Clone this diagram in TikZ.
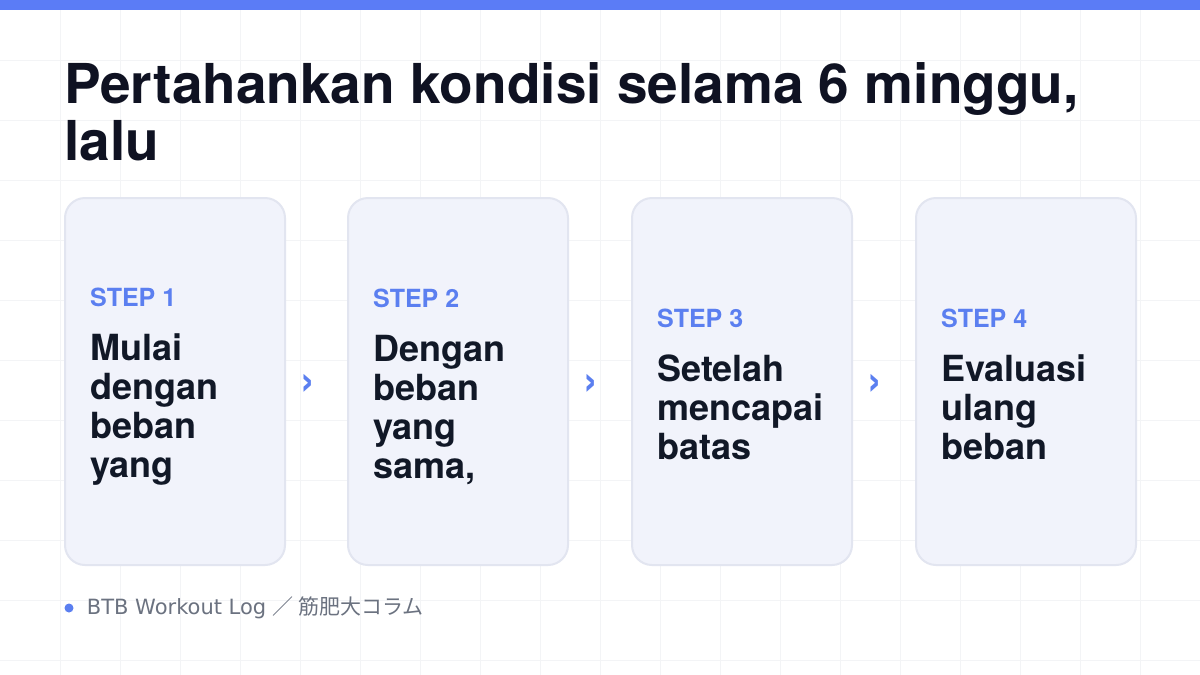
\documentclass[tikz,border=0pt]{standalone}
\usepackage{fontspec}
\setmainfont{TeX Gyre Heros}
\newfontfamily\footfont{DejaVu Sans}
\newfontfamily\cjk{Noto Sans CJK JP}
\usetikzlibrary{calc,positioning}

\definecolor{TopBlue}{HTML}{5B7CF6}
\definecolor{StepBlue}{HTML}{5B7FF0}
\definecolor{TitleInk}{HTML}{0F1222}
\definecolor{BodyInk}{HTML}{111827}
\definecolor{CardFill}{HTML}{F1F3FB}
\definecolor{CardEdge}{HTML}{E2E5F0}
\definecolor{FootInk}{HTML}{6B7280}
\definecolor{GridLine}{HTML}{F3F4F6}

\tikzset{
  card/.style={draw=CardEdge,line width=2pt,fill=CardFill,rounded corners=20pt,minimum width=220pt,minimum height=367pt,anchor=north west,inner sep=0pt,outer sep=0pt},
  cardtext/.style={anchor=west,align=left,text=BodyInk,font=\fontsize{36}{39}\selectfont\bfseries,inner sep=0pt},
  nextmark/.style={text=StepBlue,font=\fontsize{44}{44}\selectfont\bfseries,inner sep=0pt}
}

\begin{document}
\begin{tikzpicture}[x=1pt,y=-1pt]

  % Background and grid
  \path[use as bounding box,fill=white] (0,0) rectangle (1200,675);
  \foreach \gx in {60,120,...,1140} \draw[GridLine,line width=1pt] (\gx,0) -- (\gx,675);
  \foreach \gy in {60,120,...,660} \draw[GridLine,line width=1pt] (0,\gy) -- (1200,\gy);
  \fill[TopBlue] (0,0) rectangle (1200,10);

  % Title
  \node[anchor=base west,align=left,inner sep=0pt,text=TitleInk,font=\fontsize{55}{57}\selectfont\bfseries] (title) at (64,160) {Pertahankan kondisi selama 6 minggu,\\lalu};

  % Cards
  \path (65,198) node[card] (card1) {};
  \path (card1.north east) +(63,0) node[card] (card2) {};
  \path (card2.north east) +(64,0) node[card] (card3) {};
  \path (card3.north east) +(64,0) node[card] (card4) {};

  % Card texts
  \node[cardtext] (body1) at ($(card1.west)+(25,5)$) {\textcolor{StepBlue}{\fontsize{25}{30}\selectfont STEP 1}\\[15pt]Mulai\\dengan\\beban\\yang};
  \node[cardtext] (body2) at ($(card2.west)+(25,5)$) {\textcolor{StepBlue}{\fontsize{25}{30}\selectfont STEP 2}\\[15pt]Dengan\\beban\\yang\\sama,};
  \node[cardtext] (body3) at ($(card3.west)+(25,3)$) {\textcolor{StepBlue}{\fontsize{25}{30}\selectfont STEP 3}\\[15pt]Setelah\\mencapai\\batas};
  \node[cardtext] (body4) at ($(card4.west)+(25,3)$) {\textcolor{StepBlue}{\fontsize{25}{30}\selectfont STEP 4}\\[15pt]Evaluasi\\ulang\\beban};

  % Step marks
  \node[nextmark] (next1) at ($(card1.east)!0.5!(card2.west)+(-9,3)$) {›};
  \node[nextmark] (next2) at ($(card2.east)!0.5!(card3.west)+(-9,3)$) {›};
  \node[nextmark] (next3) at ($(card3.east)!0.5!(card4.west)+(-9,3)$) {›};

  % Footer
  \node[circle,fill=StepBlue,minimum size=9pt,inner sep=0pt] (dot) at (69,608) {};
  \node[right=13pt of dot,inner sep=0pt,text=FootInk,font=\fontsize{21}{24}\selectfont\footfont] (source) {BTB Workout Log {\cjk ／ 筋肥大コラム}};

\end{tikzpicture}
\end{document}
